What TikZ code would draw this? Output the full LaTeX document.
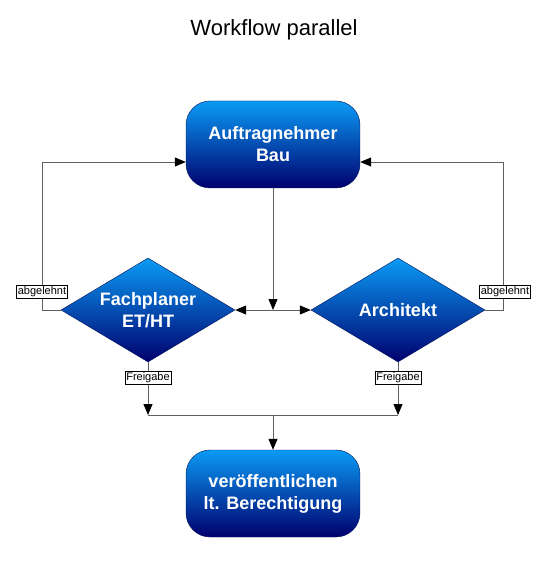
\documentclass[tikz,border=0pt]{standalone}
\usepackage{fontspec}
\setmainfont{Liberation Sans}
\usepackage{xcolor}
\usepackage{tikz}
\usetikzlibrary{shapes.geometric,arrows.meta}

\definecolor{flowtop}{RGB}{10,155,245}
\definecolor{flowmid}{RGB}{0,96,192}
\definecolor{flowbot}{RGB}{0,0,110}
\definecolor{flowedge}{RGB}{0,20,90}
\definecolor{wire}{RGB}{95,95,95}

\begin{document}
\begin{tikzpicture}[x=1pt, y=-1pt,
    box/.style={rectangle, rounded corners=24pt, draw=flowedge, top color=flowtop, middle color=flowmid, bottom color=flowbot, minimum width=174pt, minimum height=87pt, inner sep=0pt, align=center, text=white, font=\fontsize{18}{22}\selectfont\bfseries},
    decision/.style={diamond, draw=flowedge, top color=flowtop, middle color=flowmid, bottom color=flowbot, minimum width=174pt, minimum height=104pt, inner sep=0pt},
    caption/.style={align=center, text=white, font=\fontsize{18}{22}\selectfont\bfseries},
    tag/.style={rectangle, draw=black, fill=white, inner sep=1.5pt, font=\fontsize{11}{13}\selectfont},
    arrow/.style={-{Triangle[length=11pt, width=9pt, color=black]}, draw=wire, line width=0.8pt},
    wireline/.style={draw=wire, line width=0.8pt}
]
    \useasboundingbox (0,0) rectangle (548,585);

    \node[font=\fontsize{22}{26}\selectfont] (title) at (274,30) {Workflow parallel};

    \node[box] (bau) at (273,144.5) {Auftragnehmer\\Bau};
    \node[decision, label={[caption]center:Fachplaner\\ET/HT}] (fachplaner) at (148,310) {};
    \node[decision, label={[caption]center:Architekt}] (architekt) at (398,310) {};
    \node[box] (publish) at (273,493.5) {veröffentlichen\\lt. Berechtigung};

    \coordinate (split) at (273,310);
    \coordinate (join) at (273,415);

    % Verteilung an beide Pruefer
    \draw[arrow] (bau.south) -- (split);
    \draw[arrow] (split) -- (fachplaner.east);
    \draw[arrow] (split) -- (architekt.west);

    % Ruecklauf bei Ablehnung
    \draw[arrow] (fachplaner.west) -- ++(-18,0) |- ([yshift=-17.5pt]bau.west);
    \draw[arrow] (architekt.east) -- ++(18,0) |- ([yshift=-17.5pt]bau.east);

    % Freigabe
    \draw[arrow] (fachplaner.south) -- (fachplaner.south |- join);
    \draw[arrow] (architekt.south) -- (architekt.south |- join);
    \draw[wireline] (fachplaner.south |- join) -- (architekt.south |- join);
    \draw[arrow] (join) -- (publish.north);

    \node[tag] (rejectleft) at (42,292) {abgelehnt};
    \node[tag] (rejectright) at (505,292) {abgelehnt};
    \node[tag] (approveleft) at (148,378) {Freigabe};
    \node[tag] (approveright) at (398,378) {Freigabe};
\end{tikzpicture}
\end{document}
